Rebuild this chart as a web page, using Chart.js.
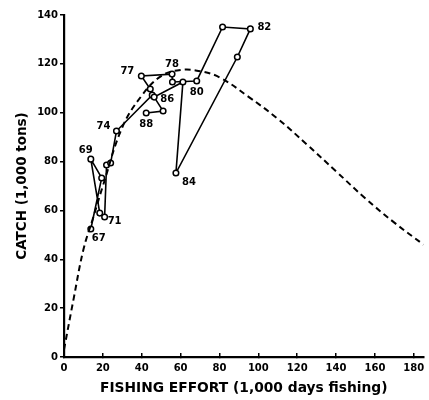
<!DOCTYPE html>
<html>
<head>
<meta charset="utf-8">
<script src="https://cdn.jsdelivr.net/npm/chart.js@4.4.1/dist/chart.umd.min.js"></script>
<style>
  html, body { margin: 0; padding: 0; background: #fff; }
  #wrap { width: 429px; height: 400px; }
</style>
</head>
<body>
<div id="wrap"><canvas id="catchChart"></canvas></div>
<script>
// yearly observations, 1967-1988
var years = [67, 68, 69, 70, 71, 72, 73, 74, 75, 76, 77, 78, 79, 80, 81, 82, 83, 84, 85, 86, 87, 88];
var effort = [13.8, 19.4, 13.8, 18.4, 20.9, 21.9, 24.0, 27.0, 45.4, 44.4, 39.8, 55.6, 55.8, 68.3, 81.6, 95.9, 89.2, 57.6, 61.2, 46.4, 51.0, 42.3];
var catchTons = [52.4, 73.3, 81.0, 58.9, 57.3, 78.6, 79.4, 92.5, 107.2, 109.7, 115.0, 115.8, 112.6, 113.0, 135.1, 134.3, 122.8, 75.3, 112.6, 106.4, 100.7, 99.9];

// dashed model curve
var curveEffort = [0, 5, 10, 15, 20, 30, 40, 50, 60, 70, 80, 95, 110, 125, 140, 155, 170, 185];
var curveCatch = [3, 24, 44, 57, 70, 94, 107, 115, 117.5, 117, 114.5, 106.5, 97.5, 87, 76, 65, 55, 46];

// which years get a label
var labelledYears = [67, 69, 71, 74, 77, 78, 80, 82, 84, 86, 88];
// label offsets in pixels [dx, dy]
var labelOffsets = {
  67: [8, 9], 69: [-5, -9], 71: [10, 4], 74: [-13, -5], 77: [-14, -5],
  78: [0, -10], 80: [0, 11], 82: [14, -2], 84: [13, 9], 86: [13, 2], 88: [0, 11]
};

var obsPoints = [];
for (var i = 0; i < years.length; i++) {
  obsPoints.push({ x: effort[i], y: catchTons[i] });
}
var curvePoints = [];
for (var j = 0; j < curveEffort.length; j++) {
  curvePoints.push({ x: curveEffort[j], y: curveCatch[j] });
}

var yearLabels = {
  id: 'yearLabels',
  afterDatasetsDraw: function(chart) {
    var ctx = chart.ctx;
    var meta = chart.getDatasetMeta(1);
    ctx.save();
    ctx.fillStyle = '#000';
    ctx.font = 'bold 10px "DejaVu Sans", sans-serif';
    ctx.textAlign = 'center';
    ctx.textBaseline = 'middle';
    for (var k = 0; k < years.length; k++) {
      var yr = years[k];
      if (labelledYears.indexOf(yr) < 0) continue;
      var el = meta.data[k];
      var off = labelOffsets[yr];
      ctx.fillText(String(yr), el.x + off[0], el.y + off[1]);
    }
    ctx.restore();
  }
};

var tickFont = { family: '"DejaVu Sans", sans-serif', size: 10, weight: 'bold' };

var ctx = document.getElementById('catchChart').getContext('2d');
var chart = new Chart(ctx, {
  type: 'scatter',
  data: {
    datasets: [{
      label: 'model',
      data: curvePoints,
      showLine: true,
      borderColor: '#000',
      borderWidth: 2,
      borderDash: [6, 4],
      tension: 0.4,
      pointRadius: 0,
      fill: false
    }, {
      label: 'observed',
      data: obsPoints,
      showLine: true,
      borderColor: '#000',
      borderWidth: 1.6,
      tension: 0,
      pointRadius: 2.8,
      pointBorderWidth: 1.5,
      pointBackgroundColor: '#fff',
      pointBorderColor: '#000',
      fill: false
    }]
  },
  options: {
    responsive: true,
    maintainAspectRatio: false,
    animation: false,
    layout: { padding: { top: 15, right: 4, left: 0, bottom: 0 } },
    plugins: {
      legend: { display: false },
      tooltip: { enabled: false }
    },
    scales: {
      x: {
        type: 'linear',
        min: 0,
        max: 185,
        afterFit: function(s) {
          s.height = 43;
          s.paddingLeft = 0;
          s.paddingRight = 0;
        },
        afterBuildTicks: function(s) {
          s.ticks = [0, 20, 40, 60, 80, 100, 120, 140, 160, 180].map(function(v) { return { value: v }; });
        },
        ticks: { color: '#000', font: tickFont, padding: 9, maxRotation: 0 },
        grid: { drawOnChartArea: false, color: '#000', lineWidth: 1.5, tickLength: -4 },
        border: { color: '#000', width: 2.2 },
        title: {
          display: true,
          text: 'FISHING EFFORT (1,000 days fishing)',
          color: '#000',
          font: { family: '"DejaVu Sans", sans-serif', size: 13.8, weight: 'bold' },
          padding: { top: 0, bottom: 3.5 }
        }
      },
      y: {
        type: 'linear',
        min: 0,
        max: 140,
        afterFit: function(s) { s.width = 64; },
        ticks: { stepSize: 20, color: '#000', font: tickFont, padding: 2 },
        grid: { drawOnChartArea: false, color: '#000', lineWidth: 1.5, tickLength: 4 },
        border: { color: '#000', width: 2.2 },
        title: {
          display: true,
          text: 'CATCH (1,000 tons)',
          color: '#000',
          font: { family: '"DejaVu Sans", sans-serif', size: 13.5, weight: 'bold' },
          padding: { top: 14, bottom: 0 }
        }
      }
    }
  },
  plugins: [yearLabels]
});
</script>
</body>
</html>
